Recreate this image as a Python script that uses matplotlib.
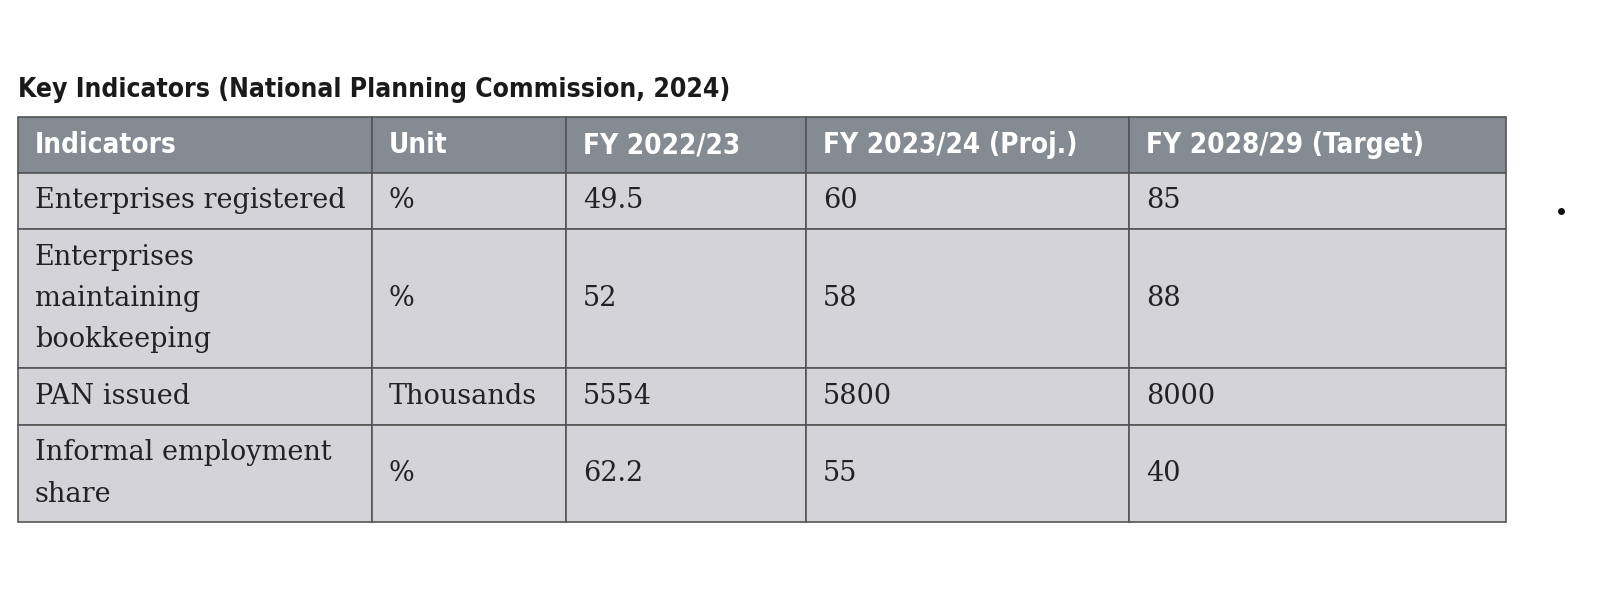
import matplotlib
matplotlib.use("Agg")
import matplotlib.pyplot as plt
from matplotlib.patches import Rectangle

title = "Key Indicators (National Planning Commission, 2024)"
headers = ["Indicators", "Unit", "FY 2022/23", "FY 2023/24 (Proj.)", "FY 2028/29 (Target)"]
indicators = ["Enterprises registered", "Enterprises\nmaintaining\nbookkeeping", "PAN issued", "Informal employment\nshare"]
units = ["%", "%", "Thousands", "%"]
fy2223 = ["49.5", "52", "5554", "62.2"]
fy2324 = ["60", "58", "5800", "55"]
fy2829 = ["85", "88", "8000", "40"]

col_edges = [18, 372, 566, 806, 1129, 1506]
row_edges = [117, 173, 229, 368, 425, 522]

W, H = 1618, 592
fig = plt.figure(figsize=(W/100, H/100), dpi=100)
ax = fig.add_axes([0, 0, 1, 1])
ax.set_xlim(0, W); ax.set_ylim(H, 0); ax.axis("off")

hdr_font = dict(family=["DejaVu Sans"], fontstretch="condensed", weight="bold")
body_font = dict(family=["DejaVu Serif"])

ax.text(18, 90, title, fontsize=19, color="#1a1a1a", va="center", ha="left", **hdr_font)

rows = list(zip(indicators, units, fy2223, fy2324, fy2829))
for r in range(len(row_edges) - 1):
    y0, y1 = row_edges[r], row_edges[r+1]
    for c in range(len(col_edges) - 1):
        x0, x1 = col_edges[c], col_edges[c+1]
        fc = "#848b93" if r == 0 else "#d3d3d8"
        ax.add_patch(Rectangle((x0, y0), x1-x0, y1-y0, facecolor=fc, edgecolor="#555555", lw=1.2))
        yc = (y0 + y1) / 2
        if r == 0:
            ax.text(x0 + 17, yc, headers[c], color="white", fontsize=20, va="center", ha="left", **hdr_font)
        else:
            txt = rows[r-1][c]
            lines = txt.split("\n")
            n = len(lines)
            for i, ln in enumerate(lines):
                ax.text(x0 + 17, yc + (i - (n-1)/2) * 41, ln, color="#222222", fontsize=19.5,
                        va="center", ha="left", **body_font)

ax.plot([1561], [211], "o", color="#111111", ms=4)
fig.savefig("out.png", dpi=100, facecolor="white")
